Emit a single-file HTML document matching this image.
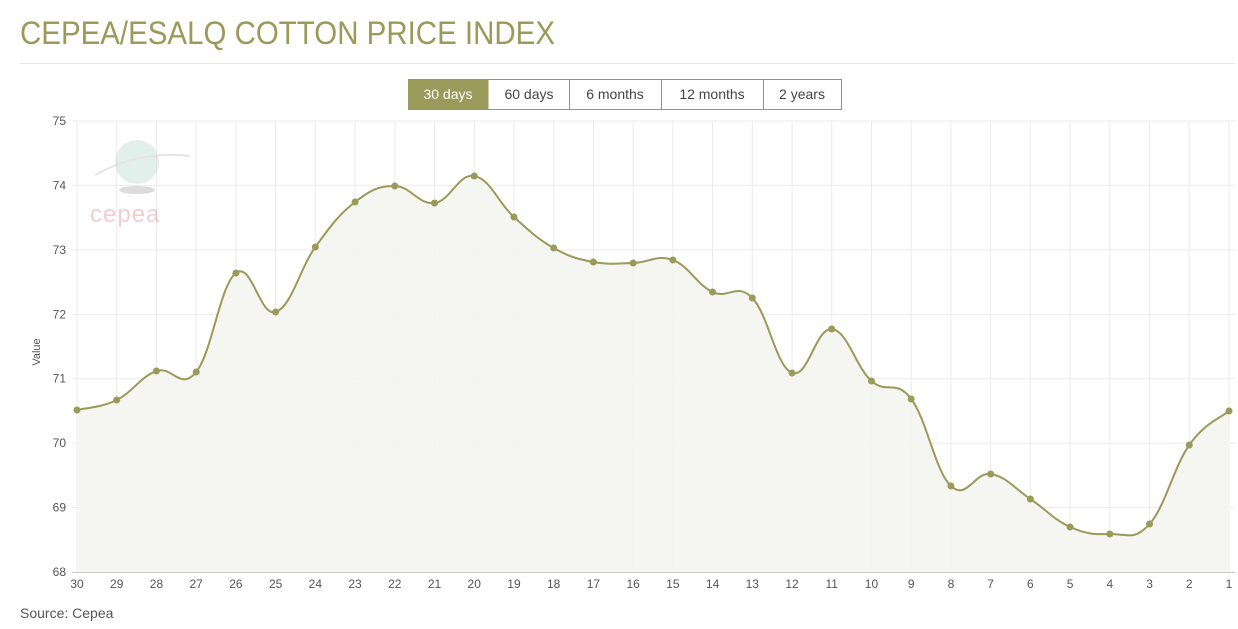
<!DOCTYPE html>
<html><head><meta charset="utf-8"><style>
body{margin:0;background:#fff;width:1238px;height:624px;overflow:hidden;font-family:"Liberation Sans","DejaVu Sans",sans-serif}
</style></head><body>
<svg id="s" width="1238" height="624" xmlns="http://www.w3.org/2000/svg" font-family="Liberation Sans, DejaVu Sans, sans-serif">
<text x="20" y="44" font-size="32" fill="#9a9a5a" textLength="535" lengthAdjust="spacingAndGlyphs">CEPEA/ESALQ COTTON PRICE INDEX</text>
<line x1="20" y1="63.5" x2="1235" y2="63.5" stroke="#e6e6e6"/>
<g id="grid"></g>
<g font-size="14" text-anchor="middle">
<rect x="408.5" y="79.5" width="433" height="30" fill="#fff" stroke="#9a9a5a"/>
<rect x="408.5" y="79.5" width="80" height="30" fill="#9a9a5a"/>
<line x1="569.5" y1="80" x2="569.5" y2="109" stroke="#9a9a5a"/>
<line x1="661.5" y1="80" x2="661.5" y2="109" stroke="#9a9a5a"/>
<line x1="763.5" y1="80" x2="763.5" y2="109" stroke="#9a9a5a"/>
<text x="448" y="99" fill="#fff">30 days</text>
<text x="529" y="99" fill="#444">60 days</text>
<text x="615" y="99" fill="#444">6 months</text>
<text x="712" y="99" fill="#444">12 months</text>
<text x="802" y="99" fill="#444">2 years</text>
</g>
<g opacity="0.5">
<ellipse cx="137" cy="162" rx="22" ry="22" fill="#c8e0d8"/>
<ellipse cx="137" cy="190" rx="18" ry="4" fill="#bbb"/>
<path d="M95 175 Q140 150 190 156" stroke="#ccc" stroke-width="2" fill="none"/>
<text x="90" y="222" font-size="24" fill="#e0a0a0" letter-spacing="1">cepea</text>
</g>
<text transform="translate(40,352) rotate(-90)" font-size="11" fill="#555" text-anchor="middle">Value</text>
<path id="area" fill="#f4f4ef" fill-opacity="0.9"/>
<path id="line" fill="none" stroke="#9a9a5a" stroke-width="2"/>
<g id="pts" fill="#9a9a5a"></g>
<g id="lab" font-size="12" fill="#555"></g>
<text x="20" y="618" font-size="14" fill="#555">Source: Cepea</text>
</svg>
<script>
var ys=[410,400,371,372,273,312,247,202,186,203,176,217,248,262,263,260,292,298,373,329,381,399,486,474,499,527,534,524,445,411];
var X0=77,DX=(1229-77)/29,TOPY=121,BOTY=572,ns="http://www.w3.org/2000/svg";
function el(t,a,p){var e=document.createElementNS(ns,t);for(var k in a)e.setAttribute(k,a[k]);if(p)p.appendChild(e);return e;}
var g=document.getElementById('grid'),lab=document.getElementById('lab'),pts=document.getElementById('pts');
for(var v=0;v<=7;v++){var y=TOPY+v*(BOTY-TOPY)/7;el('line',{x1:72,x2:1235,y1:y,y2:y,stroke:'#ebebeb'},g);
var t=el('text',{x:66,y:y+4,'text-anchor':'end'},lab);t.textContent=75-v;}
var P=[];
for(var i=0;i<30;i++){var x=X0+i*DX;P.push([x,ys[i]]);el('line',{x1:x,x2:x,y1:TOPY,y2:BOTY,stroke:'#ebebeb'},g);
var t=el('text',{x:x,y:588,'text-anchor':'middle'},lab);t.textContent=30-i;
el('circle',{cx:x,cy:ys[i],r:3.5},pts);}
el('line',{x1:72,x2:1235,y1:BOTY+.5,y2:BOTY+.5,stroke:'#ccc'},g);
var d='M'+P[0][0]+' '+P[0][1];
for(var i=0;i<29;i++){var p0=P[Math.max(i-1,0)],p1=P[i],p2=P[i+1],p3=P[Math.min(i+2,29)],k=0.2;
d+=' C'+(p1[0]+(p2[0]-p0[0])*k)+' '+(p1[1]+(p2[1]-p0[1])*k)+' '+(p2[0]-(p3[0]-p1[0])*k)+' '+(p2[1]-(p3[1]-p1[1])*k)+' '+p2[0]+' '+p2[1];}
document.getElementById('line').setAttribute('d',d);
document.getElementById('area').setAttribute('d',d+' L1229 '+BOTY+' L77 '+BOTY+' Z');
</script>
</body></html>
